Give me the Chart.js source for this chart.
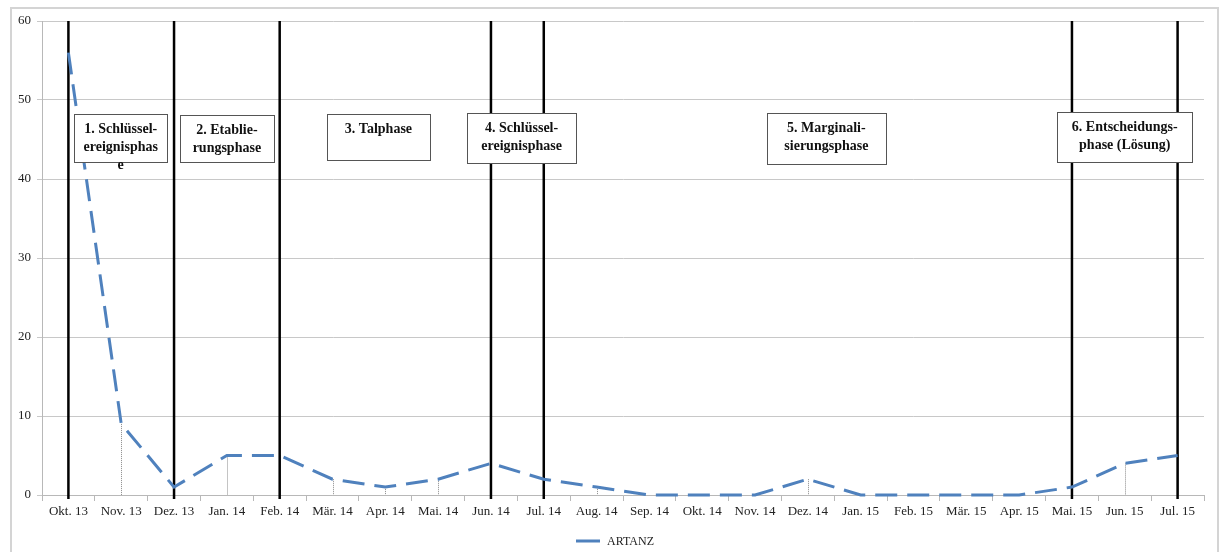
<!DOCTYPE html>
<html>
<head>
<meta charset="utf-8">
<script src="https://cdn.jsdelivr.net/npm/chart.js@4.4.1/dist/chart.umd.min.js"></script>
<style>
  html, body { margin: 0; padding: 0; background: #fff; }
  #wrap { width: 1224px; height: 552px; position: relative; }
</style>
</head>
<body>
<div id="wrap"><canvas id="artanzChart" width="1224" height="552"></canvas></div>
<script>
// Monate (Kategorien)
const monate = ['Okt. 13', 'Nov. 13', 'Dez. 13', 'Jan. 14', 'Feb. 14', 'Mär. 14', 'Apr. 14', 'Mai. 14',
    'Jun. 14', 'Jul. 14', 'Aug. 14', 'Sep. 14', 'Okt. 14', 'Nov. 14', 'Dez. 14', 'Jan. 15',
    'Feb. 15', 'Mär. 15', 'Apr. 15', 'Mai. 15', 'Jun. 15', 'Jul. 15'];

// Anzahl Artikel pro Monat
const artanz = [56, 9, 1, 5, 5, 2, 1, 2, 4, 2, 1, 0, 0, 0, 2, 0, 0, 0, 0, 1, 4, 5];

// Phasengrenzen (senkrechte Linien)
const phasenGrenzen = ['Okt. 13', 'Dez. 13', 'Feb. 14', 'Jun. 14', 'Jul. 14', 'Mai. 15', 'Jul. 15'];

// Beschriftung der Phasen
const phasenTexte = [
    ['1. Schlüssel-', 'ereignisphas', 'e'],
    ['2. Etablie-', 'rungsphase'],
    ['3. Talphase'],
    ['4. Schlüssel-', 'ereignisphase'],
    ['5. Marginali-', 'sierungsphase'],
    ['6. Entscheidungs-', 'phase (Lösung)']
];

const yTicks = [0, 10, 20, 30, 40, 50, 60];

// Lage der Textkästen: Mitte als Kategorie-Index, Oberkante als y-Wert, Größe in px
const kastenLayout = [
    { mitte: 0.99, oben: 48.2, b: 93, h: 48 },
    { mitte: 3.0, oben: 48.1, b: 94, h: 47 },
    { mitte: 5.87, oben: 48.2, b: 103, h: 46 },
    { mitte: 8.58, oben: 48.4, b: 109, h: 50 },
    { mitte: 14.35, oben: 48.4, b: 119, h: 51 },
    { mitte: 20.0, oben: 48.5, b: 135, h: 50 }
];

const SERIF = '"Liberation Serif", "Times New Roman", serif';
const BLAU = '#4f81bd';

// Plugin für Rahmen, Phasenlinien, Lotlinien, Kästen und Legende
const phasenPlugin = {
    id: 'phasen',
    beforeDraw(chart) {
        const ctx = chart.ctx;
        ctx.save();
        ctx.fillStyle = '#fff';
        ctx.fillRect(0, 0, chart.width, chart.height);
        ctx.strokeStyle = '#d4d4d4';
        ctx.lineWidth = 2;
        ctx.strokeRect(11, 8, 1207, 560);
        ctx.restore();
    },
    beforeDatasetsDraw(chart) {
        const ctx = chart.ctx;
        const x = chart.scales.x;
        const y = chart.scales.y;
        const area = chart.chartArea;
        ctx.save();
        // Lotlinien (gepunktet)
        ctx.strokeStyle = '#8a8a8a';
        ctx.lineWidth = 1;
        ctx.setLineDash([1, 1]);
        artanz.forEach((v, i) => {
            if (v <= 0) return;
            const px = Math.round(x.getPixelForValue(i)) + 0.5;
            ctx.beginPath();
            ctx.moveTo(px, y.getPixelForValue(v));
            ctx.lineTo(px, area.bottom);
            ctx.stroke();
        });
        // Phasengrenzen
        ctx.setLineDash([]);
        ctx.strokeStyle = '#000';
        ctx.lineWidth = 2.5;
        phasenGrenzen.forEach(m => {
            const px = x.getPixelForValue(monate.indexOf(m));
            ctx.beginPath();
            ctx.moveTo(px, area.top);
            ctx.lineTo(px, area.bottom + 4);
            ctx.stroke();
        });
        ctx.restore();
    },
    afterDatasetsDraw(chart) {
        const ctx = chart.ctx;
        const x = chart.scales.x;
        const y = chart.scales.y;
        const schritt = x.getPixelForValue(1) - x.getPixelForValue(0);
        ctx.save();
        phasenTexte.forEach((zeilen, i) => {
            const k = kastenLayout[i];
            const cx = x.getPixelForValue(0) + k.mitte * schritt;
            const top = Math.round(y.getPixelForValue(k.oben)) + 0.5;
            const left = Math.round(cx - k.b / 2) + 0.5;
            ctx.fillStyle = '#fff';
            ctx.fillRect(left, top, k.b, k.h);
            ctx.strokeStyle = '#555';
            ctx.lineWidth = 1;
            ctx.strokeRect(left, top, k.b, k.h);
            ctx.fillStyle = '#111';
            ctx.font = 'bold 14px ' + SERIF;
            ctx.textAlign = 'center';
            ctx.textBaseline = 'middle';
            zeilen.forEach((z, j) => {
                ctx.fillText(z, cx, top + 15 + j * 18);
            });
        });
        ctx.restore();
    },
    afterDraw(chart) {
        // Legende
        const ctx = chart.ctx;
        ctx.save();
        ctx.strokeStyle = BLAU;
        ctx.lineWidth = 3;
        ctx.beginPath();
        ctx.moveTo(576, 541);
        ctx.lineTo(600, 541);
        ctx.stroke();
        ctx.fillStyle = '#222';
        ctx.font = '12px ' + SERIF;
        ctx.textAlign = 'left';
        ctx.textBaseline = 'middle';
        ctx.fillText(chart.data.datasets[0].label, 607, 542);
        ctx.restore();
    }
};

document.addEventListener('DOMContentLoaded', function() {
    const ctx = document.getElementById('artanzChart').getContext('2d');
    new Chart(ctx, {
        type: 'line',
        data: {
            labels: monate,
            datasets: [{
                label: 'ARTANZ',
                data: artanz,
                borderColor: BLAU,
                backgroundColor: BLAU,
                borderWidth: 3,
                borderDash: [22, 10],
                borderCapStyle: 'butt',
                pointRadius: 0,
                tension: 0,
                clip: false
            }]
        },
        options: {
            responsive: false,
            animation: false,
            devicePixelRatio: 1,
            layout: { padding: { left: 0, right: 20, top: 21, bottom: 31 } },
            plugins: {
                legend: { display: false },
                tooltip: { enabled: false }
            },
            scales: {
                x: {
                    type: 'category',
                    offset: true,
                    afterFit: s => { s.height = 26; },
                    grid: {
                        offset: true,
                        drawOnChartArea: false,
                        drawTicks: true,
                        tickLength: 6,
                        color: '#b8b8b8'
                    },
                    border: { color: '#b8b8b8' },
                    ticks: {
                        autoSkip: false,
                        maxRotation: 0,
                        padding: 3,
                        color: '#222',
                        font: { family: SERIF, size: 13 }
                    }
                },
                y: {
                    min: 0,
                    max: 60,
                    afterFit: s => { s.width = 42; },
                    afterBuildTicks: s => { s.ticks = yTicks.map(v => ({ value: v })); },
                    grid: { color: '#c8c8c8', tickLength: 5 },
                    border: { color: '#b8b8b8' },
                    ticks: {
                        padding: 6,
                        color: '#222',
                        font: { family: SERIF, size: 13 }
                    }
                }
            }
        },
        plugins: [phasenPlugin]
    });
});
</script>
</body>
</html>
